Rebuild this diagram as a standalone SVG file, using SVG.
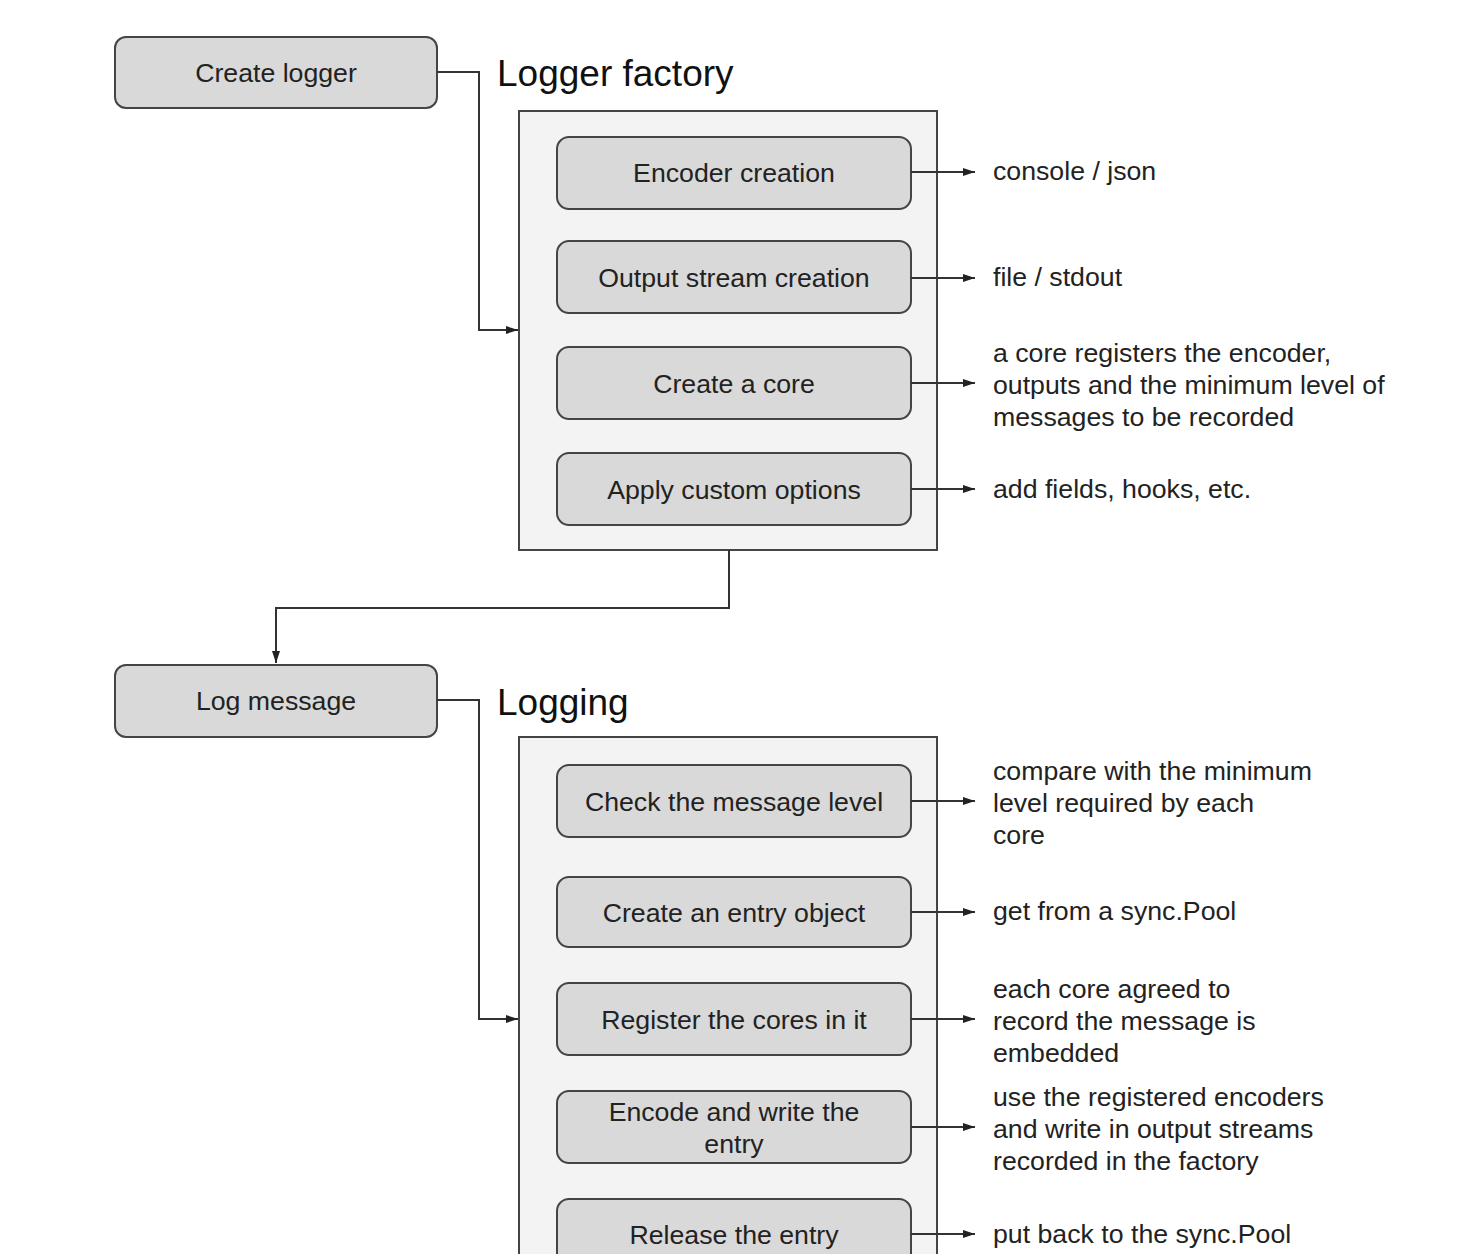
<svg xmlns="http://www.w3.org/2000/svg" width="1476" height="1254" viewBox="0 0 1476 1254">
<defs>
<marker id="ah" markerWidth="13" markerHeight="10" refX="12" refY="5" orient="auto" markerUnits="userSpaceOnUse">
<path d="M0,1 L12,5 L0,9 Z" fill="#222"/>
</marker>
<style>
.box{fill:#d9d9d9;stroke:#444;stroke-width:2}
.cont{fill:#f3f3f3;stroke:#444;stroke-width:2}
.t{font-family:"Liberation Sans",Arial,sans-serif;font-size:26.7px;fill:#222}
.c{text-anchor:middle}
.title{font-family:"Liberation Sans",Arial,sans-serif;font-size:37px;fill:#111}
.ln{fill:none;stroke:#333;stroke-width:2}
</style>
</defs>
<rect width="1476" height="1254" fill="#fff"/>

<g id="create-logger">
<rect class="box" x="115" y="37" width="322" height="71" rx="11"/>
<text class="t c" x="276" y="82">Create logger</text>
</g>
<text class="title" x="497" y="86">Logger factory</text>
<g id="logger-factory">
<rect class="cont" x="519" y="111" width="418" height="439"/>
</g>
<g id="encoder-creation">
<rect class="box" x="557" y="137" width="354" height="72" rx="12"/>
<text class="t c" x="734" y="182">Encoder creation</text>
</g>
<g id="output-stream">
<rect class="box" x="557" y="241" width="354" height="72" rx="12"/>
<text class="t c" x="734" y="287">Output stream creation</text>
</g>
<g id="create-core">
<rect class="box" x="557" y="347" width="354" height="72" rx="12"/>
<text class="t c" x="734" y="393">Create a core</text>
</g>
<g id="apply-options">
<rect class="box" x="557" y="453" width="354" height="72" rx="12"/>
<text class="t c" x="734" y="499">Apply custom options</text>
</g>
<text class="t" x="993" y="180">console / json</text>
<text class="t" x="993" y="286">file / stdout</text>
<text class="t" x="993" y="362">a core registers the encoder,</text>
<text class="t" x="993" y="394">outputs and the minimum level of</text>
<text class="t" x="993" y="426">messages to be recorded</text>
<text class="t" x="993" y="498">add fields, hooks, etc.</text>

<g id="log-message">
<rect class="box" x="115" y="665" width="322" height="72" rx="11"/>
<text class="t c" x="276" y="710">Log message</text>
</g>
<text class="title" x="497" y="715">Logging</text>
<g id="logging">
<rect class="cont" x="519" y="737" width="418" height="540"/>
</g>
<g id="check-level">
<rect class="box" x="557" y="765" width="354" height="72" rx="12"/>
<text class="t c" x="734" y="811">Check the message level</text>
</g>
<g id="create-entry">
<rect class="box" x="557" y="877" width="354" height="70" rx="12"/>
<text class="t c" x="734" y="922">Create an entry object</text>
</g>
<g id="register-cores">
<rect class="box" x="557" y="983" width="354" height="72" rx="12"/>
<text class="t c" x="734" y="1029">Register the cores in it</text>
</g>
<g id="encode-write">
<rect class="box" x="557" y="1091" width="354" height="72" rx="12"/>
<text class="t c" x="734" y="1121">Encode and write the</text>
<text class="t c" x="734" y="1153">entry</text>
</g>
<g id="release-entry">
<rect class="box" x="557" y="1199" width="354" height="72" rx="12"/>
<text class="t c" x="734" y="1244">Release the entry</text>
</g>
<text class="t" x="993" y="780">compare with the minimum</text>
<text class="t" x="993" y="812">level required by each</text>
<text class="t" x="993" y="844">core</text>
<text class="t" x="993" y="920">get from a sync.Pool</text>
<text class="t" x="993" y="998">each core agreed to</text>
<text class="t" x="993" y="1030">record the message is</text>
<text class="t" x="993" y="1062">embedded</text>
<text class="t" x="993" y="1106">use the registered encoders</text>
<text class="t" x="993" y="1138">and write in output streams</text>
<text class="t" x="993" y="1170">recorded in the factory</text>
<text class="t" x="993" y="1243">put back to the sync.Pool</text>

<g id="connectors">
<path class="ln" d="M437,72 H479 V330 H518" marker-end="url(#ah)"/>
<path class="ln" d="M729,550 V608 H276 V663" marker-end="url(#ah)"/>
<path class="ln" d="M437,700 H479 V1019 H518" marker-end="url(#ah)"/>
<path class="ln" d="M911,172 H975" marker-end="url(#ah)"/>
<path class="ln" d="M911,278 H975" marker-end="url(#ah)"/>
<path class="ln" d="M911,383 H975" marker-end="url(#ah)"/>
<path class="ln" d="M911,489 H975" marker-end="url(#ah)"/>
<path class="ln" d="M911,801 H975" marker-end="url(#ah)"/>
<path class="ln" d="M911,912 H975" marker-end="url(#ah)"/>
<path class="ln" d="M911,1019 H975" marker-end="url(#ah)"/>
<path class="ln" d="M911,1127 H975" marker-end="url(#ah)"/>
<path class="ln" d="M911,1234 H975" marker-end="url(#ah)"/>
</g>
</svg>
